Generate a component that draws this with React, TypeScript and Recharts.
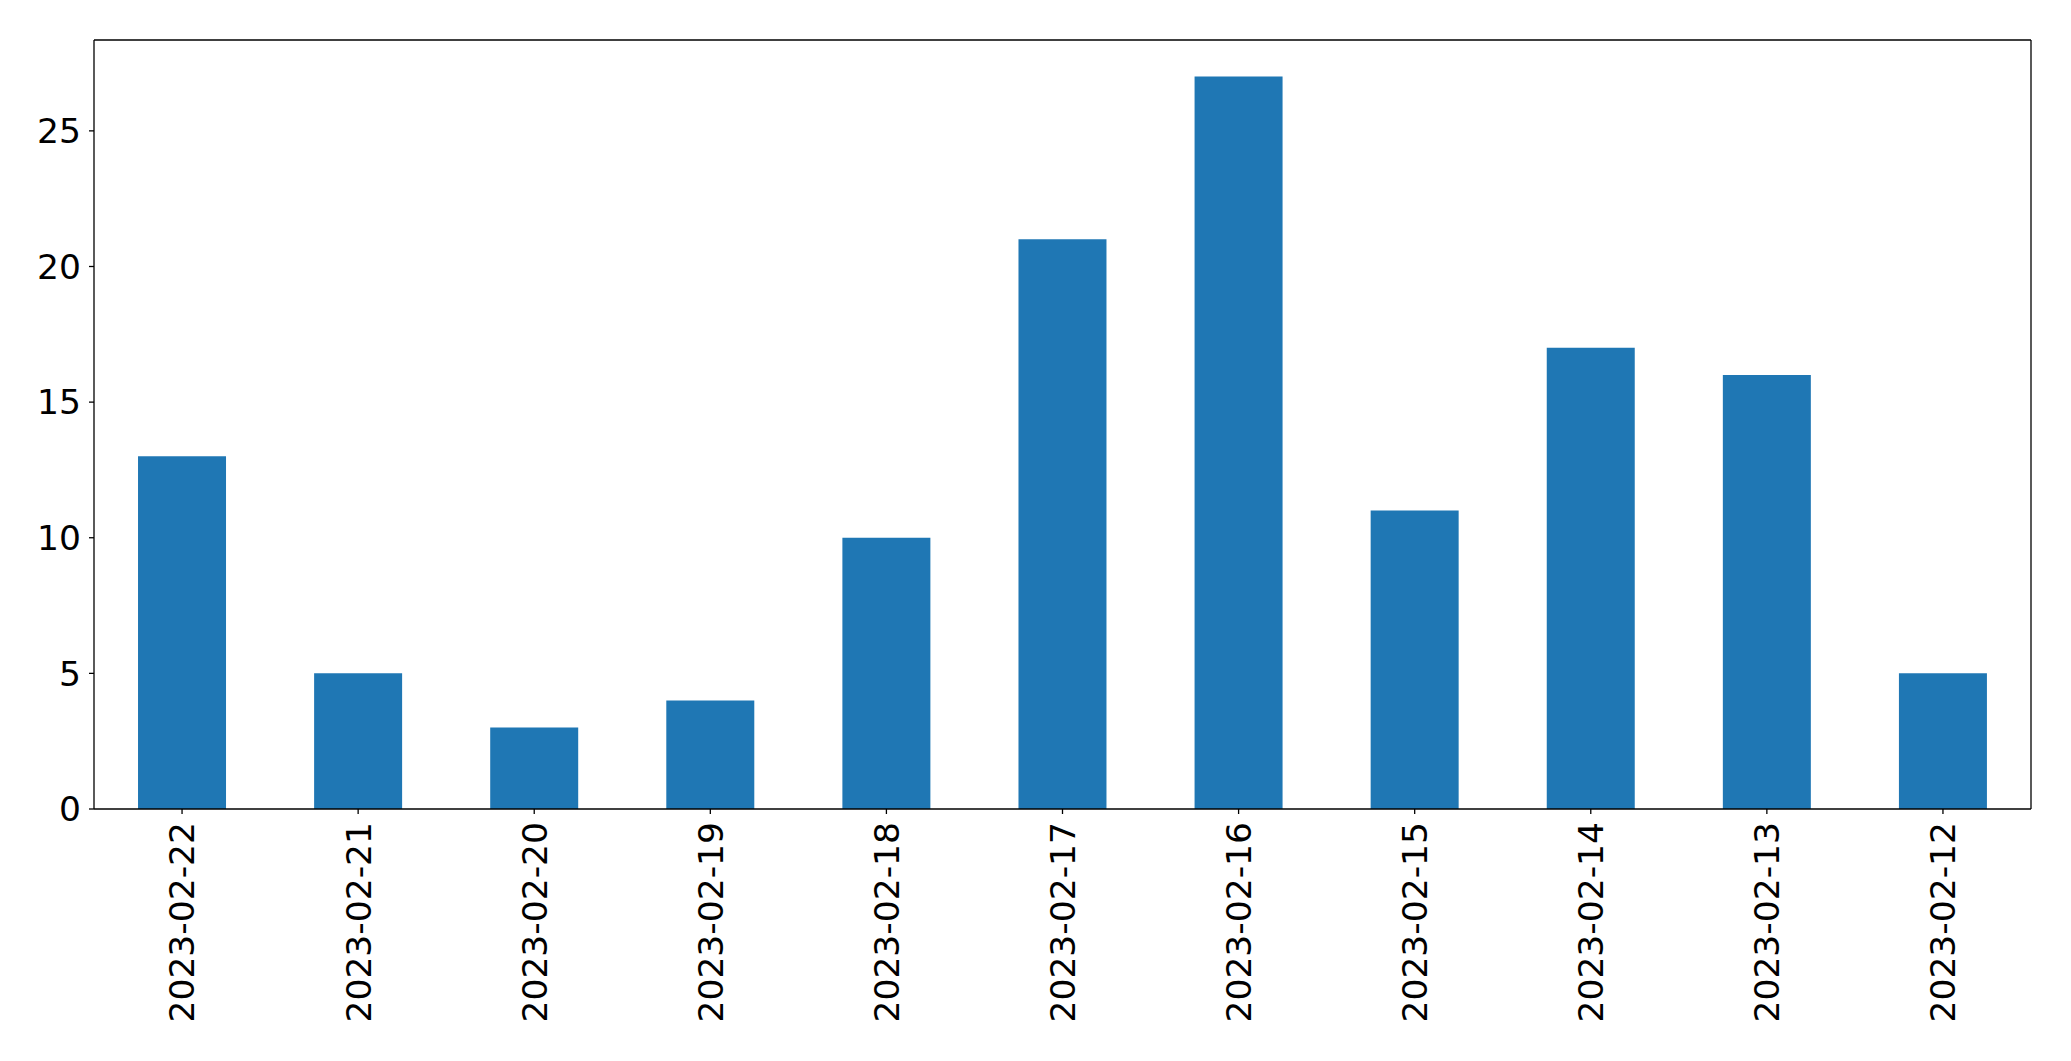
import { BarChart, Bar, XAxis, YAxis, ReferenceLine } from 'recharts';

const dates = [
  '2023-02-22', '2023-02-21', '2023-02-20', '2023-02-19', '2023-02-18', '2023-02-17',
  '2023-02-16', '2023-02-15', '2023-02-14', '2023-02-13', '2023-02-12',
];
const counts = [13, 5, 3, 4, 10, 21, 27, 11, 17, 16, 5];
const yTicks = [0, 5, 10, 15, 20, 25];
const yMax = 28.35;

const data = dates.map((date, i) => ({ date, count: counts[i] }));

const font = "'DejaVu Sans', sans-serif";
const line = { stroke: '#000', strokeWidth: 1.3 };

function DateTick({ x, y, payload }: any) {
  return (
    <g transform={`translate(${x},${y})`}>
      <text transform="rotate(-90)" textAnchor="end" dy="0.36em" fontSize={34.5} fontFamily={font} fill="#000">
        {payload.value}
      </text>
    </g>
  );
}

export default function App() {
  return (
    <div style={{ position: 'absolute', left: 0, top: 0, background: '#fff' }}>
      <BarChart
        width={2071}
        height={1061}
        data={data}
        margin={{ top: 40, right: 39, left: 0, bottom: 0 }}
        barCategoryGap="25%"
      >
        <XAxis
          dataKey="date"
          height={252}
          interval={0}
          tick={<DateTick />}
          tickSize={5}
          tickMargin={8}
          axisLine={line}
          tickLine={line}
        />
        <YAxis
          width={94}
          domain={[0, yMax]}
          ticks={yTicks}
          tickSize={5}
          tickMargin={8}
          tick={{ fontSize: 34.5, fontFamily: font, fill: '#000' }}
          axisLine={line}
          tickLine={line}
        />
        <YAxis yAxisId="right" orientation="right" width={1} domain={[0, yMax]} tick={false} tickLine={false}
          axisLine={line} />
        <ReferenceLine y={yMax} stroke="#000" strokeWidth={1.3} />
        <Bar dataKey="count" fill="#1f77b4" isAnimationActive={false} />
      </BarChart>
    </div>
  );
}
